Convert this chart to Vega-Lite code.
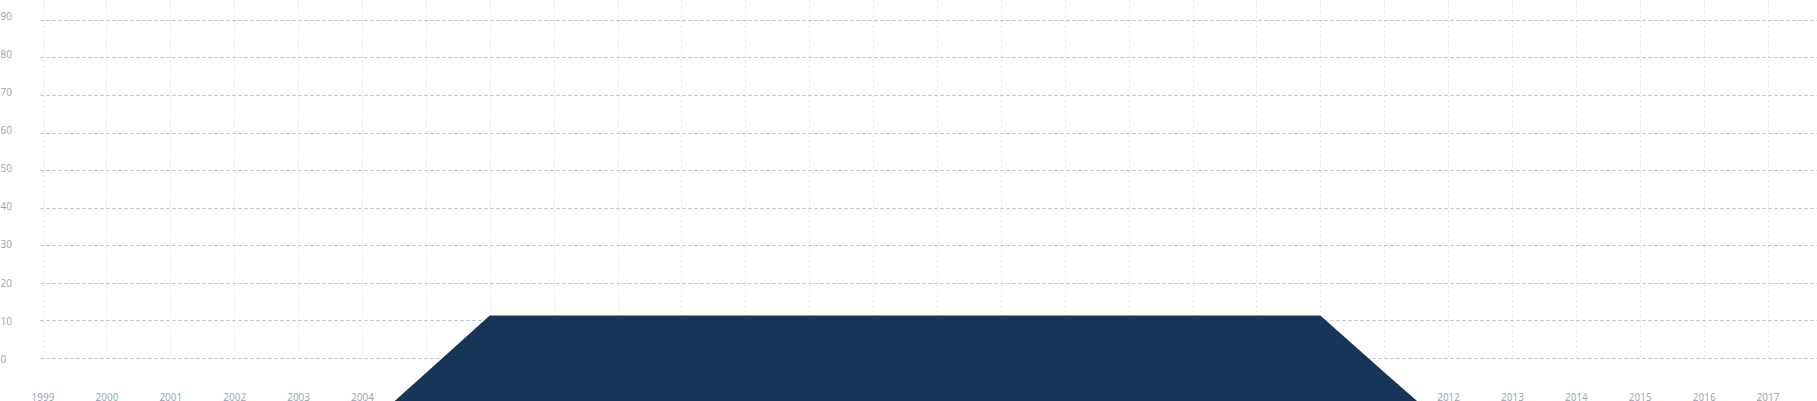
{
  "$schema": "https://vega.github.io/schema/vega-lite/v6.json",
  "width": 1794,
  "height": 358,
  "padding": 0,
  "background": "#ffffff",
  "config": {
    "view": {"stroke": null},
    "axis": {"labelFont": "Open Sans", "labelFontSize": 10, "labelColor": "#97a3b6", "title": null}
  },
  "data": {
    "values": [
      {"period": "2004", "value": -19.2},
      {"period": "2005/1", "value": -4.0},
      {"period": "2005/2", "value": 11.3},
      {"period": "2006/1", "value": 11.3},
      {"period": "2006/2", "value": 11.3},
      {"period": "2007/1", "value": 11.3},
      {"period": "2007/2", "value": 11.3},
      {"period": "2008/1", "value": 11.3},
      {"period": "2008/2", "value": 11.3},
      {"period": "2009/1", "value": 11.3},
      {"period": "2009/2", "value": 11.3},
      {"period": "2010/1", "value": 11.3},
      {"period": "2010/2", "value": 11.3},
      {"period": "2011/1", "value": 11.3},
      {"period": "2011/2", "value": 11.3},
      {"period": "2012/1", "value": 11.3},
      {"period": "2012/2", "value": -3.8},
      {"period": "2012", "value": -18.7}
    ]
  },
  "encoding": {
    "x": {
      "field": "period",
      "type": "ordinal",
      "sort": null,
      "scale": {
        "type": "point",
        "padding": 0.04,
        "domain": ["1999", "2000", "2001", "2002", "2003", "2004", "2005/1", "2005/2", "2006/1", "2006/2", "2007/1", "2007/2", "2008/1", "2008/2", "2009/1", "2009/2", "2010/1", "2010/2", "2011/1", "2011/2", "2012/1", "2012/2", "2012", "2013", "2014", "2015", "2016", "2017", "2018"]
      },
      "axis": {
        "labelAngle": 0,
        "domain": false,
        "ticks": false,
        "tickSize": 0,
        "labelOverlap": false,
        "labelBaseline": "alphabetic",
        "labelPadding": 42,
        "grid": true,
        "gridColor": "#e2e2e2",
        "gridDash": [2, 3],
        "gridWidth": 1
      }
    }
  },
  "layer": [
    {
      "mark": {"type": "area", "color": "#163559", "clip": false, "interpolate": "linear"},
      "encoding": {
        "y": {
          "field": "value",
          "type": "quantitative",
          "scale": {"domain": [0, 95.3], "nice": false, "zero": true},
          "axis": {
            "labels": false,
            "ticks": false,
            "tickSize": 0,
            "domain": false,
            "grid": true,
            "gridColor": "#b3bfcf",
            "gridDash": [3, 3],
            "gridWidth": 1,
            "values": [0, 10, 20, 30, 40, 50, 60, 70, 80, 90]
          }
        },
        "y2": {"datum": -40}
      }
    },
    {
      "mark": {"type": "rule", "opacity": 0, "strokeOpacity": 0},
      "encoding": {
        "y": {
          "datum": 0,
          "type": "quantitative",
          "scale": {"domain": [0, 93.9], "nice": false, "zero": true},
          "axis": {
            "orient": "left",
            "grid": false,
            "ticks": false,
            "tickSize": 0,
            "domain": false,
            "labelAlign": "left",
            "labelBaseline": "middle",
            "labelPadding": 40,
            "labelOffset": 1.3,
            "values": [0, 10, 20, 30, 40, 50, 60, 70, 80, 90]
          }
        }
      }
    }
  ],
  "resolve": {"scale": {"y": "independent"}, "axis": {"y": "independent"}}
}
